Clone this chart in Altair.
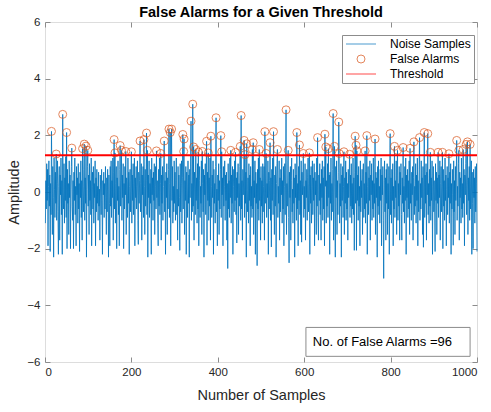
import altair as alt
import pandas as pd

# ---------------- data ----------------
threshold = 1.3

noise_001_100 = [
    -1.1, 0.4, -0.6, 1.0, -0.3, 0.8, -1.9, 0.2, 1.1, -0.5,
    0.6, -2.1, 0.3, -0.8, 2.14, 0.5, -1.5, 0.9, -0.2, -2.3,
    1.2, 0.1, -0.9, 0.7, -0.4, 1.34, -1.0, 0.3, 1.1, -0.7,
    -2.2, 0.2, 0.9, -1.7, 0.6, -0.1, 1.2, -0.8, 0.4, -2.2,
    2.74, 0.0, -0.6, 1.0, -1.1, 0.5, -0.3, 1.25, -0.9, 2.1,
    -2.0, 0.8, -0.4, 0.3, -1.5, 1.1, -0.2, 0.6, -2.0, 0.1,
    0.9, 1.55, -0.5, -1.0, 0.4, -2.0, 0.7, -0.3, 1.2, -0.8,
    0.2, -1.9, 0.9, -0.1, 0.5, -1.1, 1.0, -0.6, 0.3, -2.1,
    0.7, -0.2, 1.1, -0.9, 0.4, -1.7, 1.53, 0.2, -0.7, 0.8,
    1.69, -1.0, 0.5, -0.4, 1.62, -2.3, 0.1, 0.9, 1.47, -0.5,
]
noise_101_200 = [
    0.6, -1.5, 1.0, -0.3, 0.4, -0.8, 1.2, -1.9, 0.2, 0.7,
    -0.6, 0.9, -1.1, 0.3, -0.2, 1.1, -1.9, 0.5, -0.7, 0.8,
    -0.4, 0.2, -1.0, 0.7, -0.5, 0.1, -1.7, 0.6, 0.0, -0.8,
    0.8, -0.3, -2.2, 0.4, -0.1, 0.7, -0.9, 0.3, -0.6, 0.9,
    -0.2, -1.5, 0.5, -0.7, 0.8, 0.1, -2.3, 0.6, -0.4, -1.9,
    0.9, -0.5, 1.1, -0.9, 0.4, -0.2, 1.2, -1.7, 0.7, 1.85,
    -0.6, 1.38, -1.1, 0.3, 0.9, -2.0, 0.5, -0.3, 1.1, -0.8,
    0.2, -1.9, 0.8, 1.64, -0.5, 0.4, 1.47, -1.0, 0.6, -0.2,
    1.0, -2.0, 0.3, -0.6, 0.9, -0.1, 1.43, -1.5, 0.5, 0.1,
    -0.9, 1.2, -0.4, 0.7, -2.2, 0.2, 0.8, -0.7, 0.4, 1.42,
]
noise_201_300 = [
    -1.1, 0.6, -0.3, 1.0, -0.8, 0.3, 1.2, -1.9, 0.5, -0.2,
    0.9, -0.6, 0.2, 1.1, -1.0, -1.85, 0.7, -0.4, 0.4, 1.8,
    -0.7, 0.3, 1.0, -1.7, 0.6, -0.1, 0.9, -0.9, 1.85, 0.2,
    -1.5, 0.8, -0.5, 0.4, 2.08, -0.8, 1.47, -2.3, 0.6, -0.2,
    1.1, -0.9, 0.3, -0.4, 0.8, -2.2, 1.2, -0.1, 0.5, -1.0,
    0.7, -0.3, 1.0, -1.5, 0.2, 0.9, -0.6, 1.45, -0.2, 0.4,
    -1.1, -1.9, 0.8, -0.5, 1.2, -0.8, 0.3, 1.36, -1.7, 0.6,
    -0.4, 0.9, -1.0, 0.2, 1.1, 1.8, -0.7, 0.4, -2.2, 0.7,
    -0.2, 1.0, -1.5, 0.5, -0.6, 0.8, 2.22, -0.9, 0.3, 2.1,
    -1.9, 0.6, 2.22, -0.3, 0.9, -1.1, 0.2, -0.7, 1.1, -0.4,
]
noise_301_400 = [
    0.7, -1.0, 0.4, 1.2, -0.8, 0.1, -1.7, 0.9, -0.5, 0.6,
    -0.2, -2.06, 1.0, -0.7, 0.3, 1.1, -1.1, 0.5, 2.03, -0.6,
    1.43, 1.87, -1.5, 0.4, -0.3, 0.9, -2.2, 0.7, 0.0, -0.9,
    1.1, -0.4, 0.6, -2.3, 0.8, -0.2, 1.2, 2.5, -1.0, 0.3,
    -0.7, 3.1, -0.5, 1.59, -1.7, 0.7, 0.1, -0.8, 1.5, -0.3,
    0.5, -1.1, 1.0, -0.6, 1.41, -1.9, 0.4, 0.9, -0.9, 0.2,
    -0.4, 1.1, -1.5, 1.43, 0.3, -0.7, 0.8, -2.3, 0.6, -0.1,
    1.0, -0.8, 0.4, 1.79, -1.88, 0.7, -0.3, 1.38, -1.0, 0.5,
    -0.5, 1.2, -1.7, 1.97, 0.2, -0.9, 0.6, -0.2, 1.1, -2.2,
    0.8, -0.4, 0.3, -1.1, 0.9, 2.62, -0.7, 0.1, -1.9, 0.6,
]
noise_401_500 = [
    -0.3, 1.0, -1.5, 0.4, -0.6, 0.8, 1.99, -0.9, 1.42, -0.1,
    0.5, -1.9, 0.9, -0.5, 0.2, 1.1, -1.0, 0.6, -0.3, 0.7,
    -1.7, 0.3, -2.7, 1.0, -0.6, 0.4, -0.9, 1.2, -0.2, 1.47,
    -1.1, 0.6, -0.4, 0.9, -2.2, 0.2, 0.8, -0.7, 1.1, -0.3,
    1.4, -0.8, 0.5, -1.8, 0.7, -0.2, 1.0, -1.5, 0.3, -0.5,
    0.9, 1.61, -1.0, 2.7, -0.6, 0.4, -1.7, 0.8, -0.1, 0.6,
    1.82, -0.9, 1.32, -0.4, 0.7, -2.3, 1.7, 0.1, -0.7, 0.5,
    -1.1, 1.0, -0.3, 0.6, -1.9, 0.9, -0.5, 0.2, -0.9, 1.5,
    -0.6, 1.74, -1.5, 0.4, -0.2, 1.1, -2.2, 0.7, -0.4, 0.3,
    -2.6, 0.8, -0.6, 1.2, -1.0, 1.5, -0.3, 0.5, -1.7, 0.9,
]
noise_501_600 = [
    -0.5, 0.4, -1.1, 1.0, -0.7, 0.2, 0.9, -1.7, 2.13, -0.4,
    0.6, 1.36, -0.9, 0.3, -0.2, 1.1, -2.2, 0.7, -0.6, 0.4,
    1.74, -1.0, 0.5, -1.94, 0.8, -0.3, 1.2, -0.8, 2.13, -0.1,
    -1.5, 0.6, -0.5, 0.9, -2.3, 0.3, 1.0, 1.5, -0.9, 0.2,
    -0.4, 1.1, -1.7, 0.5, -0.7, 0.8, -0.1, 1.2, -1.1, 0.4,
    -0.6, 0.9, -1.9, 0.2, 1.0, -0.8, 0.6, 2.9, -1.5, 0.3,
    -0.5, 1.1, 1.47, -0.9, -2.5, 0.7, -0.2, 0.9, -1.7, 0.4,
    1.2, -0.7, 0.1, -1.1, 0.8, -0.4, 0.5, -2.3, 1.0, -0.2,
    0.6, -1.0, 2.1, -0.6, 0.3, -1.9, 0.9, -0.3, 1.66, -0.8,
    0.4, -1.5, 1.1, -1.77, 0.7, -0.1, 0.5, 1.36, -0.9, 0.2,
]
noise_601_700 = [
    -0.6, 1.0, -1.7, 0.4, -0.2, 0.8, -1.0, 0.5, 1.2, -0.7,
    0.3, 1.38, -2.2, 0.6, -0.4, 0.9, -1.1, 0.2, 1.1, -0.8,
    0.5, -0.3, 1.0, -1.9, 0.7, -0.1, 0.4, -1.5, 1.2, -0.5,
    1.92, -0.9, -1.7, 0.6, -0.3, 1.0, -0.8, 0.3, -1.7, 0.8,
    -0.2, 1.1, -1.0, 0.5, -0.6, 0.9, -1.9, 2.04, 0.2, 1.59,
    -1.1, 0.4, -0.5, 1.0, -0.9, 1.53, -0.2, 0.6, -2.2, 0.7,
    -0.4, 1.2, -1.0, 0.3, -0.7, 0.8, 2.77, -1.7, 0.5, 1.61,
    -0.6, -2.3, 0.9, -0.2, 1.1, -1.5, 0.4, -0.8, 0.7, 2.47,
    1.36, -1.1, 0.3, -0.5, 1.0, -2.3, 0.6, -0.3, 0.9, -0.9,
    0.2, 1.42, -1.5, 0.5, -0.4, 1.1, -1.0, 0.7, -0.6, 0.3,
]
noise_701_800 = [
    -1.7, 0.8, -0.2, 0.4, 1.33, -0.9, 0.6, -0.5, 1.0, -1.1,
    0.3, -0.6, 1.2, -0.8, 0.5, -2.06, 0.7, 1.97, -0.4, 1.65,
    -2.06, 1.45, -0.3, 0.6, -1.0, 0.9, -0.5, 0.2, -1.9, 1.1,
    -0.7, 0.4, -0.2, 0.8, -1.5, 0.5, 1.0, -0.9, 0.3, -0.6,
    1.45, -1.1, 0.7, -0.4, 1.99, -2.2, 0.2, 0.9, -0.8, 0.5,
    -0.3, 1.1, -1.7, 0.6, -0.1, 1.0, -1.0, 0.4, -0.6, 1.2,
    -0.9, 0.3, -0.4, 1.87, -1.5, 0.7, -0.2, 0.5, -2.3, 0.9,
    -0.5, 1.1, -0.8, 0.2, -1.1, 0.8, -0.3, 1.2, -1.9, 0.6,
    -0.1, 0.9, -1.0, -3.05, 0.4, 1.1, -0.7, 0.5, -1.7, 0.8,
    -0.4, 1.0, -1.5, 0.3, -0.6, 0.9, -2.2, 0.6, 2.06, -0.8,
]
noise_801_900 = [
    0.5, -1.1, 0.8, -0.3, 1.0, -1.9, 0.2, -0.6, 1.61, -0.9,
    0.4, -0.2, 1.1, -1.5, 0.6, 1.47, -1.0, 0.3, -0.5, 0.9,
    -1.7, 0.7, -0.1, 1.0, -0.8, -1.7, 0.5, -0.4, 1.57, -0.7,
    0.2, -1.1, 0.9, -0.3, 1.2, -2.2, 0.6, -0.2, 0.8, -0.9,
    0.4, -0.6, 1.1, -1.5, 1.54, -0.4, 0.3, -1.0, 0.7, -0.1,
    0.9, -1.7, 0.5, 1.77, -0.8, 0.2, -0.5, 1.0, -1.1, 0.6,
    -0.3, 1.2, -1.9, 0.4, -0.7, 0.8, 1.92, -1.0, 0.3, -0.6,
    1.1, -0.2, 0.5, -1.5, 0.9, -1.95, 0.4, 2.1, -0.9, 0.6,
    -0.4, 1.0, -1.7, 0.7, -0.1, 2.06, -0.8, 0.3, -1.1, 0.8,
    -0.5, 1.4, -1.0, 0.5, -0.3, 1.1, -2.2, 0.2, 0.9, -0.7,
]
noise_901_1000 = [
    0.4, -0.6, -2.1, 1.0, -0.3, 0.7, -1.5, 0.5, -0.4, 1.4,
    -0.9, 0.6, -0.2, 1.1, -1.7, 0.3, 0.9, -0.7, 0.2, 1.4,
    -2.0, 0.8, -0.5, 0.4, -1.0, 1.2, -0.3, 0.6, -1.9, 0.1,
    0.9, -0.8, 0.5, -0.2, 1.35, -1.1, 0.7, -0.4, 1.0, -2.2,
    0.3, -0.6, 0.8, -0.1, -1.88, 1.1, -0.7, 0.4, -1.5, 0.9,
    -0.3, 0.6, 1.82, -1.0, 0.2, -0.5, 1.0, 1.47, -1.7, 0.7,
    -0.2, 0.5, -1.1, 1.2, -0.6, 0.3, -0.9, 1.5, -0.4, 0.8,
    -1.9, 0.6, -0.1, 1.0, 1.68, -0.8, 0.4, 1.77, -1.5, 0.5,
    -0.3, 0.9, -1.0, 1.68, -0.6, 0.2, 1.1, -2.2, 0.7, -0.4,
    -2.0, 0.8, -0.2, 0.5, -1.1, 0.9, -0.7, 0.3, 1.0, -2.1,
]

noise = (noise_001_100 + noise_101_200 + noise_201_300 + noise_301_400 +
         noise_401_500 + noise_501_600 + noise_601_700 + noise_701_800 +
         noise_801_900 + noise_901_1000)
samples = list(range(1, len(noise) + 1))

series_names = ["Noise Samples", "False Alarms", "Threshold"]
x_ticks = [0, 200, 400, 600, 800, 1000]
y_ticks = [-6, -4, -2, 0, 2, 4, 6]

# ---------------- styles ----------------
FONT = "Liberation Sans"
series_colors = ["#0072BD", "#D95319", "#FF0000"]
series_shapes = ["M-3.75,0H3.75", "circle", "M-3.75,0H3.75"]
series_widths = [1, 1, 2]
axis_gray = "#8c8c8c"
text_gray = "#262626"

df = pd.DataFrame({"n": samples, "amp": noise})
fa = df[df["amp"] > threshold].copy()
fa["series"] = "False Alarms"
n_fa = len(fa)
thr_df = pd.DataFrame({"thr": [threshold]})

# annotation box (data coordinates)
box_df = pd.DataFrame({"x0": [604], "x1": [984], "y0": [-4.78], "y1": [-5.8]})
txt_df = pd.DataFrame({"x": [620], "y": [-5.29],
                       "label": [f"No. of False Alarms ={n_fa}"]})

xs = alt.Scale(domain=[0, 1000], nice=False, zero=False)
ys = alt.Scale(domain=[-6, 6], nice=False, zero=False)

common_axis = dict(domain=False, grid=False, tickColor=axis_gray, tickSize=5,
                   offset=-5, labelFont=FONT, labelFontSize=11.5,
                   labelColor=text_gray, titleFont=FONT, titleFontSize=14.5,
                   titleFontWeight="normal", titleColor=text_gray)

x_bottom = alt.Axis(orient="bottom", values=x_ticks, format="d",
                    title="Number of Samples", labelPadding=4, titlePadding=11,
                    **common_axis)
y_left = alt.Axis(orient="left", values=y_ticks, format="d",
                  title="Amplitude", labelPadding=5, titlePadding=5,
                  **common_axis)
x_top = alt.Axis(orient="top", values=x_ticks, labels=False, title=None,
                 **common_axis)
y_right = alt.Axis(orient="right", values=y_ticks, labels=False, title=None,
                   **common_axis)

noise_line = alt.Chart(df).mark_line(color=series_colors[0], strokeWidth=0.8).encode(
    x=alt.X("n:Q", scale=xs, axis=x_bottom),
    y=alt.Y("amp:Q", scale=ys, axis=y_left),
)

legend = alt.Legend(title=None, orient="none", legendX=297, legendY=13,
                    labelFont=FONT, labelFontSize=12, labelColor="black",
                    symbolSize=64, symbolOffset=10, labelOffset=23,
                    padding=3, rowPadding=3, strokeColor=axis_gray,
                    fillColor="white", symbolFillColor="transparent")

points = alt.Chart(fa).mark_point(filled=False, size=64).encode(
    x=alt.X("n:Q", scale=xs, axis=x_top),
    y=alt.Y("amp:Q", scale=ys, axis=y_right),
    color=alt.Color("series:N", scale=alt.Scale(domain=series_names, range=series_colors), legend=legend),
    shape=alt.Shape("series:N", scale=alt.Scale(domain=series_names, range=series_shapes), legend=legend),
    strokeWidth=alt.StrokeWidth("series:N", scale=alt.Scale(domain=series_names, range=series_widths), legend=legend),
)

thr_rule = alt.Chart(thr_df).mark_rule(color=series_colors[2], strokeWidth=2).encode(
    y=alt.Y("thr:Q", scale=ys, axis=None),
)

box = alt.Chart(box_df).mark_rect(fill="white", stroke=axis_gray, strokeWidth=1).encode(
    x=alt.X("x0:Q", scale=xs, axis=None), x2="x1:Q",
    y=alt.Y("y0:Q", scale=ys, axis=None), y2="y1:Q",
)
box_text = alt.Chart(txt_df).mark_text(align="left", baseline="middle", font=FONT,
                                       fontSize=13, color="black").encode(
    x=alt.X("x:Q", scale=xs, axis=None),
    y=alt.Y("y:Q", scale=ys, axis=None),
    text="label:N",
)

chart = alt.layer(noise_line, points, thr_rule, box, box_text).resolve_axis(
    x="independent", y="independent"
).properties(
    width=432, height=340,
    title=alt.Title("False Alarms for a Given Threshold", font=FONT, fontSize=14.5,
                    fontWeight="bold", color="black", offset=-4),
    autosize=alt.AutoSizeParams(type="none"),
    padding={"left": 45, "top": 22, "right": 14, "bottom": 50},
).configure_view(stroke=axis_gray, strokeWidth=1).configure(background="white")

chart.save("out.html", embed_options={"renderer": "svg", "actions": False})
